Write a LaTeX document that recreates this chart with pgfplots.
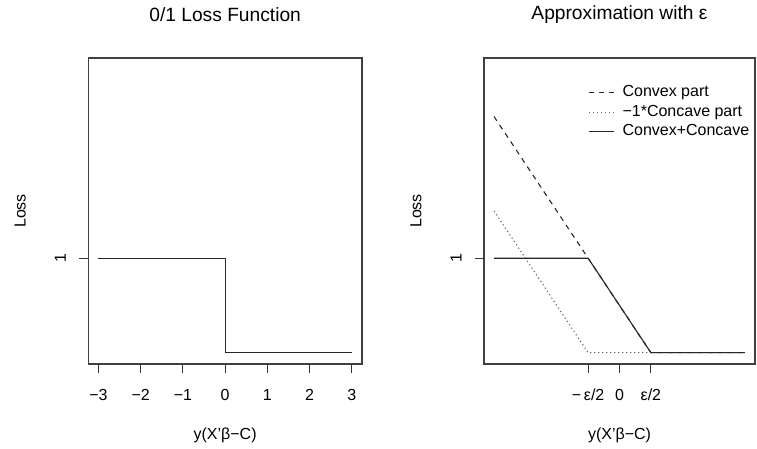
\documentclass[border=0pt]{standalone}
\usepackage{fontspec}
\setmainfont{Liberation Sans}
\usepackage{pgfplots}
\pgfplotsset{compat=1.18}

\pgfplotsset{
  rbase/.style={
    scale only axis,
    anchor=south west,
    height=153pt,
    ymin=-0.12, ymax=3.12,
    ytick={1}, yticklabels={1},
    axis line style={black!75, line width=0.6pt},
    tick style={black!80, line width=0.5pt},
    tick align=outside,
    major tick length=4.5pt,
    xtick pos=bottom, ytick pos=left,
    font=\fontsize{8}{9.6}\selectfont,
    ticklabel style={font=\fontsize{8}{9.6}\selectfont},
    xticklabel style={anchor=center, yshift=-11pt},
    yticklabel style={rotate=90, anchor=center, yshift=9.5pt},
    title style={at={(0.5,1)}, anchor=center, yshift=15.5pt,
                 font=\fontsize{9.6}{11}\selectfont},
    xlabel style={at={(axis description cs:0.5,0)}, anchor=center, yshift=-35.5pt},
    ylabel style={at={(axis description cs:0,0.5)}, anchor=center, yshift=34pt},
    xlabel={y(X'β−C)},
    ylabel={Loss},
    clip=false,
  }
}

\begin{document}
\begin{tikzpicture}
\useasboundingbox (0,0) rectangle (378.5pt,224.5pt);

% left panel: 0/1 loss
\begin{axis}[rbase,
  at={(44.15pt,42.5pt)},
  width=136.85pt,
  xmin=-3.24, xmax=3.24,
  xtick={-3,-2,-1,0,1,2,3},
  xticklabels={−3,−2,−1,0,1,2,3},
  title={0/1 Loss Function},
]
\addplot[black!85, line width=0.55pt] coordinates {(-3,1) (0,1) (0,0) (3,0)};
\end{axis}

% right panel: convex + concave approximation
\begin{axis}[rbase,
  at={(242pt,42.5pt)},
  width=135.5pt,
  xmin=-2.16, xmax=2.16,
  xtick={-0.5,0,0.5},
  xticklabels={−\,ε/2,0,ε/2},
  title={Approximation with ε},
  legend cell align=left,
  legend style={draw=none, fill=none, at={(rel axis cs:0.384,1)}, anchor=north west,
    yshift=-12pt, inner sep=0pt, row sep=-0.3pt,
    font=\fontsize{8}{9.6}\selectfont,
    nodes={inner sep=1.5pt},
    /tikz/every odd column/.append style={column sep=2.5pt}},
  legend image code/.code={\draw[#1] (0pt,0pt) -- (12.5pt,0pt);},
]
\addplot[black!85, line width=0.55pt, dash pattern=on 2.6pt off 2.4pt]
  coordinates {(-2,2.5) (0.5,0) (2,0)};
\addlegendentry{Convex part}
\addplot[black!60, line width=0.55pt, dash pattern=on 0.6pt off 1.4pt]
  coordinates {(-2,1.5) (-0.5,0) (2,0)};
\addlegendentry{−1*Concave part}
\addplot[black!85, line width=0.55pt]
  coordinates {(-2,1) (-0.5,1) (0.5,0) (2,0)};
\addlegendentry{Convex+Concave}
\end{axis}
\end{tikzpicture}
\end{document}
